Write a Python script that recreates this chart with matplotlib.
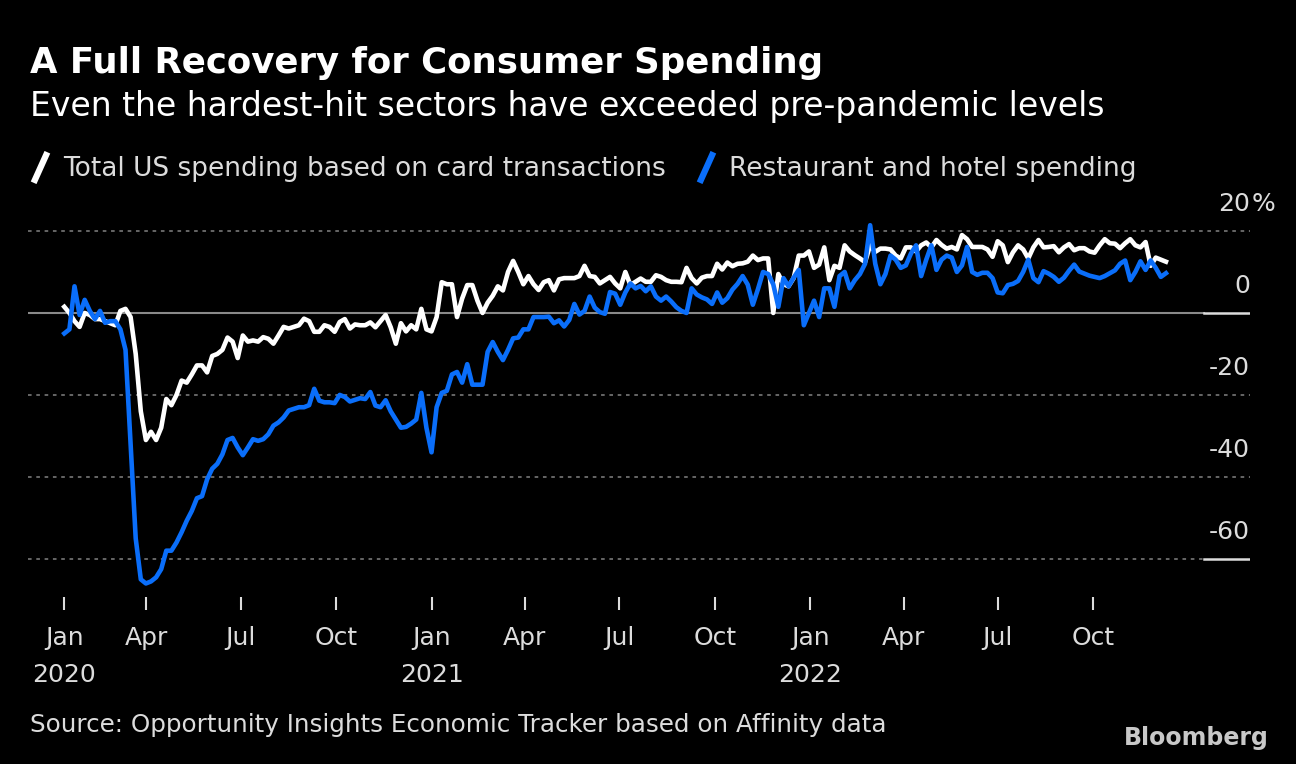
import matplotlib
matplotlib.use("Agg")
import matplotlib.pyplot as plt
from matplotlib.lines import Line2D
from matplotlib.path import Path
import pandas as pd

# readings taken roughly every 4.9 days from 2020-01-13, % change vs Jan 2020
start_date = "2020-01-13"
step = "118h"

total_spending = [
    1.5, 0, -2, -3.4, 0, -0.5, -1.5, -1.5, -2, -2.5,
    -3, 0.5, 1, -1, -10, -24, -31, -29, -31, -28,
    -21, -22.5, -20, -16.5, -17, -15, -12.8, -12.8, -14.5, -10.5,
    -10, -9, -6, -7, -11, -5.5, -7, -6.7, -7, -5.9,
    -6.3, -7.5, -5.5, -3.4, -3.8, -3.4, -3, -1.4, -2, -4.6,
    -4.6, -3, -3.4, -4.6, -2.2, -1.5, -3.8, -2.8, -3, -3,
    -2.3, -3.5, -2, -0.5, -3.5, -7.5, -2.5, -4.5, -3, -4,
    1.0, -4, -4.5, -1, 7.5, 7, 7, -1, 3.5, 6.8,
    6.8, 3, 0, 2.5, 4.2, 6.5, 5.5, 10, 12.7, 10,
    7, 9, 7, 5.6, 7.5, 8, 5.5, 8.2, 8.5, 8.5,
    8.5, 9, 11.5, 9, 8.8, 7.2, 8, 8.8, 7.2, 6,
    10, 6.8, 7.6, 8.4, 7.6, 7.6, 9.2, 8.8, 8, 7.6,
    7.6, 7.5, 11, 8.5, 7.2, 8.6, 9, 9, 12, 10.6,
    12.3, 11.4, 12, 12.1, 12.5, 14, 12.9, 13.3, 13.3, 0,
    9.5, 7, 6.5, 8.5, 14, 14, 15, 11, 11.8, 16,
    8, 11.5, 11, 16.5, 15, 14.1, 13.3, 12.4, 16.5, 14.9,
    15.7, 15.7, 15.5, 14, 13.3, 16, 16, 15, 16.5, 17.2,
    16, 17.8, 16.6, 15.7, 16.1, 15.5, 19, 18, 16.1, 16.1,
    16.1, 15.5, 13.7, 17.5, 16.5, 12.4, 14.8, 16.5, 15.5, 13.3,
    16, 17.8, 16, 16.1, 16.3, 14.8, 16, 16.8, 15.3, 15.8,
    15.8, 15, 14.7, 16.5, 18, 17, 16.9, 15.8, 17, 18,
    16.5, 16, 17.3, 11.5, 13.5, 13, 12.5,
]

restaurant_hotel = [
    -5, -4, 6.5, -0.5, 3.2, 0.5, -1.5, 0.5, -2.4, -2,
    -2, -4, -9, -32, -55, -65, -66, -65.5, -64.5, -62.5,
    -58, -58, -56, -53.5, -50.7, -48.3, -45.2, -44.7, -40.6, -38,
    -36.8, -34.5, -31, -30.5, -32.8, -34.7, -32.8, -30.8, -31.2, -30.8,
    -29.6, -27.5, -26.7, -25.5, -23.8, -23.4, -23, -23, -22.5, -18.5,
    -21.4, -21.8, -21.8, -22, -20, -20.5, -21.6, -21.2, -20.8, -21,
    -19.3, -22.6, -23, -21.3, -24, -26, -28, -27.8, -27, -26,
    -19.5, -28, -34, -23, -19.5, -19, -15, -14.4, -17, -12.5,
    -17.5, -17.5, -17.5, -9.5, -7.1, -9.5, -11.5, -9, -6.2, -6,
    -4, -4, -1, -1, -1, -0.9, -2.5, -1.8, -3.3, -1.7,
    2.2, -0.4, 0.5, 4, 1.3, 0.2, -0.2, 5.1, 4.7, 2,
    5, 7.2, 6, 6.6, 5.3, 6.5, 4, 3, 4, 2.8,
    1.4, 0.5, 0, 6, 4.5, 3.8, 3.3, 2.2, 5, 2.5,
    3.6, 5.7, 7.1, 9, 6.9, 2, 5.8, 10, 9.5, 7,
    1.5, 8.5, 6.5, 8.6, 10.5, -3, 0, 3, -1, 6,
    6, 1.5, 9, 10, 6, 8, 9.5, 12, 21.4, 12,
    7, 9.5, 14, 13, 11, 11.6, 14.5, 16.5, 9, 13,
    16.5, 10.5, 13, 14, 13.5, 10, 11.6, 16.1, 10, 9.3,
    9.8, 9.8, 8.5, 5, 4.8, 6.8, 7.1, 7.8, 10, 13,
    8.5, 7.5, 10.2, 9.6, 8.8, 7.6, 8.6, 10.3, 11.8, 10.1,
    9.6, 9.1, 8.8, 8.5, 9, 9.7, 10.4, 12, 12.8, 8,
    10, 12.6, 10.5, 12.8, 11, 8.8, 9.7,
]

y_ticks = [20, 0, -20, -40, -60]
y_labels = ["20", "0", "-20", "-40", "-60"]
x_tick_dates = ["2020-01-13", "2020-04-01", "2020-07-01", "2020-10-01",
                "2021-01-01", "2021-04-01", "2021-07-01", "2021-10-01",
                "2022-01-01", "2022-04-01", "2022-07-01", "2022-10-01"]
x_labels = ["Jan\n2020", "Apr", "Jul", "Oct",
            "Jan\n2021", "Apr", "Jul", "Oct",
            "Jan\n2022", "Apr", "Jul", "Oct"]

dates = pd.date_range(start_date, periods=len(total_spending), freq=step)

BG = "black"
TXT = "#dcdcdc"
BLUE = "#0a6efa"
GRID = "#6e6e6e"

fig = plt.figure(figsize=(12.96, 7.64), dpi=100, facecolor=BG)
ax = fig.add_axes([0.0216, 0.2186, 0.9429, 0.5059], facecolor=BG)

for v in [20, -20, -40, -60]:
    ax.axhline(v, color=GRID, lw=1.3, ls=(0, (2, 2.6)), zorder=1)
ax.axhline(0, color="#8a8a8a", lw=1.5, xmax=0.962, zorder=1)
ax.axhline(0, color=TXT, lw=1.8, xmin=0.962, zorder=1)
ax.axhline(-60, color=BG, lw=2.5, xmin=0.962, zorder=1.5)
ax.axhline(-60, color=TXT, lw=1.8, xmin=0.962, zorder=2)

ax.plot(dates, total_spending, color="white", lw=3.3, solid_joinstyle="round", zorder=3)
ax.plot(dates, restaurant_hotel, color=BLUE, lw=3.3, solid_joinstyle="round", zorder=4)

ax.set_xlim(pd.Timestamp("2019-12-09"), pd.Timestamp("2023-03-01"))
ax.set_ylim(-69.3, 25)

for s in ax.spines.values():
    s.set_visible(False)

ax.set_yticks([])
ax.set_xticks(pd.to_datetime(x_tick_dates))
ax.set_xticklabels(x_labels, color=TXT, fontsize=18, linespacing=1.65)
ax.tick_params(axis="x", colors=TXT, length=9, width=1.5, pad=12, labelcolor=TXT)

for v, lbl in zip(y_ticks, y_labels):
    ax.annotate(lbl, xy=(1.0, v), xycoords=("axes fraction", "data"),
                xytext=(0, 11), textcoords="offset points",
                ha="right", va="bottom", color=TXT, fontsize=18)
ax.annotate("%", xy=(1.0, 20), xycoords=("axes fraction", "data"),
            xytext=(1, 11), textcoords="offset points",
            ha="left", va="bottom", color=TXT, fontsize=18)

fig.text(0.023, 0.917, "A Full Recovery for Consumer Spending", color="white",
         fontsize=25.6, fontweight="bold", va="center", ha="left")
fig.text(0.023, 0.86, "Even the hardest-hit sectors have exceeded pre-pandemic levels",
         color="white", fontsize=23.8, va="center", ha="left")

slash = Path([(-0.45, -1.0), (0.45, 1.0)], [Path.MOVETO, Path.LINETO])
handles = [
    Line2D([], [], ls="none", marker=slash, markersize=22, markeredgewidth=4.5,
           color="white"),
    Line2D([], [], ls="none", marker=slash, markersize=22, markeredgewidth=4.5,
           color=BLUE),
]
fig.legend(handles, ["Total US spending based on card transactions",
                     "Restaurant and hotel spending"],
           loc="center left", bbox_to_anchor=(0.0, 0.779), ncol=2,
           frameon=False, fontsize=19, labelcolor=TXT,
           handlelength=1.2, handletextpad=0.3, columnspacing=0.9)

fig.text(0.023, 0.051, "Source: Opportunity Insights Economic Tracker based on Affinity data",
         color=TXT, fontsize=17.7, va="center", ha="left")
fig.text(0.979, 0.034, "Bloomberg", color="#c8c8c8", fontsize=17,
         fontweight="bold", va="center", ha="right")

fig.savefig("out.png", dpi=100, facecolor=BG)
